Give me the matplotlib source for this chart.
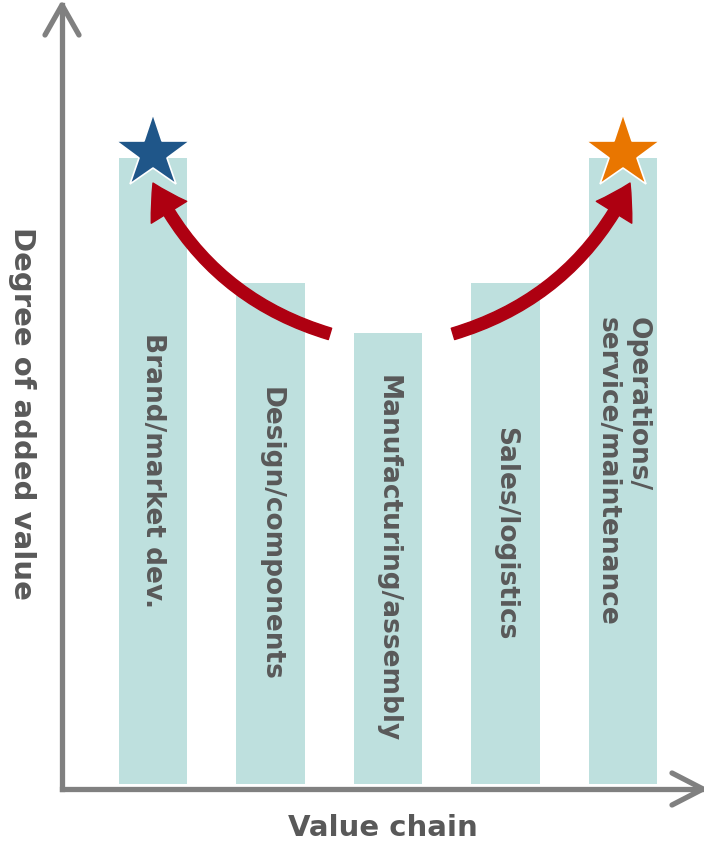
import numpy as np
import matplotlib
matplotlib.use("Agg")
import matplotlib.pyplot as plt
from matplotlib.patches import FancyArrowPatch

# data
stages = ["Brand/market dev.", "Design/components", "Manufacturing/assembly",
          "Sales/logistics", "Operations/\nservice/maintenance"]
added_value = [100, 80, 72, 80, 100]
star_colors = {0: "#1F5689", 4: "#E97600"}

bar_color = "#BEE0DE"
axis_gray = "#808080"
text_gray = "#595959"
red = "#AE0011"

fig = plt.figure(figsize=(7.04, 8.44), dpi=100)
ax = fig.add_axes([62/704, 55/844, 641/704, 784/844])

x = np.arange(len(stages))
ax.bar(x, added_value, width=0.58, color=bar_color, zorder=1)

# labels inside the bars, reading top to bottom
for xi, val, name in zip(x, added_value, stages):
    ax.text(xi, val/2, name, rotation=270, rotation_mode="anchor",
            ha="center", va="center", multialignment="left",
            fontsize=19, fontweight="bold", color=text_gray, zorder=3,
            linespacing=1.2)

# stars on top of the two ends
for i, c in star_colors.items():
    ax.plot(x[i], added_value[i] + 0.8, marker="*", markersize=56,
            color=c, markeredgecolor="white", markeredgewidth=1.2, zorder=5,
            clip_on=False)

# curved red arrows from the middle up to the ends
style = "simple,head_length=24,head_width=30,tail_width=8.5"
arr1 = FancyArrowPatch((1.506, 71.9), (0.0, 96.0), arrowstyle=style,
                       connectionstyle="arc3,rad=-0.22", mutation_scale=1,
                       color=red, shrinkA=0, shrinkB=0, zorder=4)
arr2 = FancyArrowPatch((2.553, 71.9), (4.06, 96.0), arrowstyle=style,
                       connectionstyle="arc3,rad=0.22", mutation_scale=1,
                       color=red, shrinkA=0, shrinkB=0, zorder=4)
ax.add_patch(arr1)
ax.add_patch(arr2)

ax.set_xlim(-0.7745, 4.681)
ax.set_ylim(-0.8, 124.44)

# axes drawn as gray arrows
for s in ["top", "right"]:
    ax.spines[s].set_visible(False)
for s in ["left", "bottom"]:
    ax.spines[s].set_color(axis_gray)
    ax.spines[s].set_linewidth(3.8)
ax.set_xticks([])
ax.set_yticks([])
ax.patch.set_alpha(0)

kw = dict(color=axis_gray, lw=3.8, solid_capstyle="round",
          solid_joinstyle="round", transform=ax.transAxes, clip_on=False)
ax.plot([-17/641, 0, 17/641], [1 - 30/784, 1, 1 - 30/784], **kw)
ax.plot([1 - 31/641, 1, 1 - 31/641], [16/784, 0, -16/784], **kw)

ax.set_xlabel("Value chain", fontsize=21, fontweight="bold", color=text_gray,
              labelpad=18)
fig.text(22/704, 1 - 413/844, "Degree of added value", rotation=270,
         rotation_mode="anchor", ha="center", va="center",
         fontsize=21, fontweight="bold", color=text_gray)

fig.savefig("out.png", dpi=100)
